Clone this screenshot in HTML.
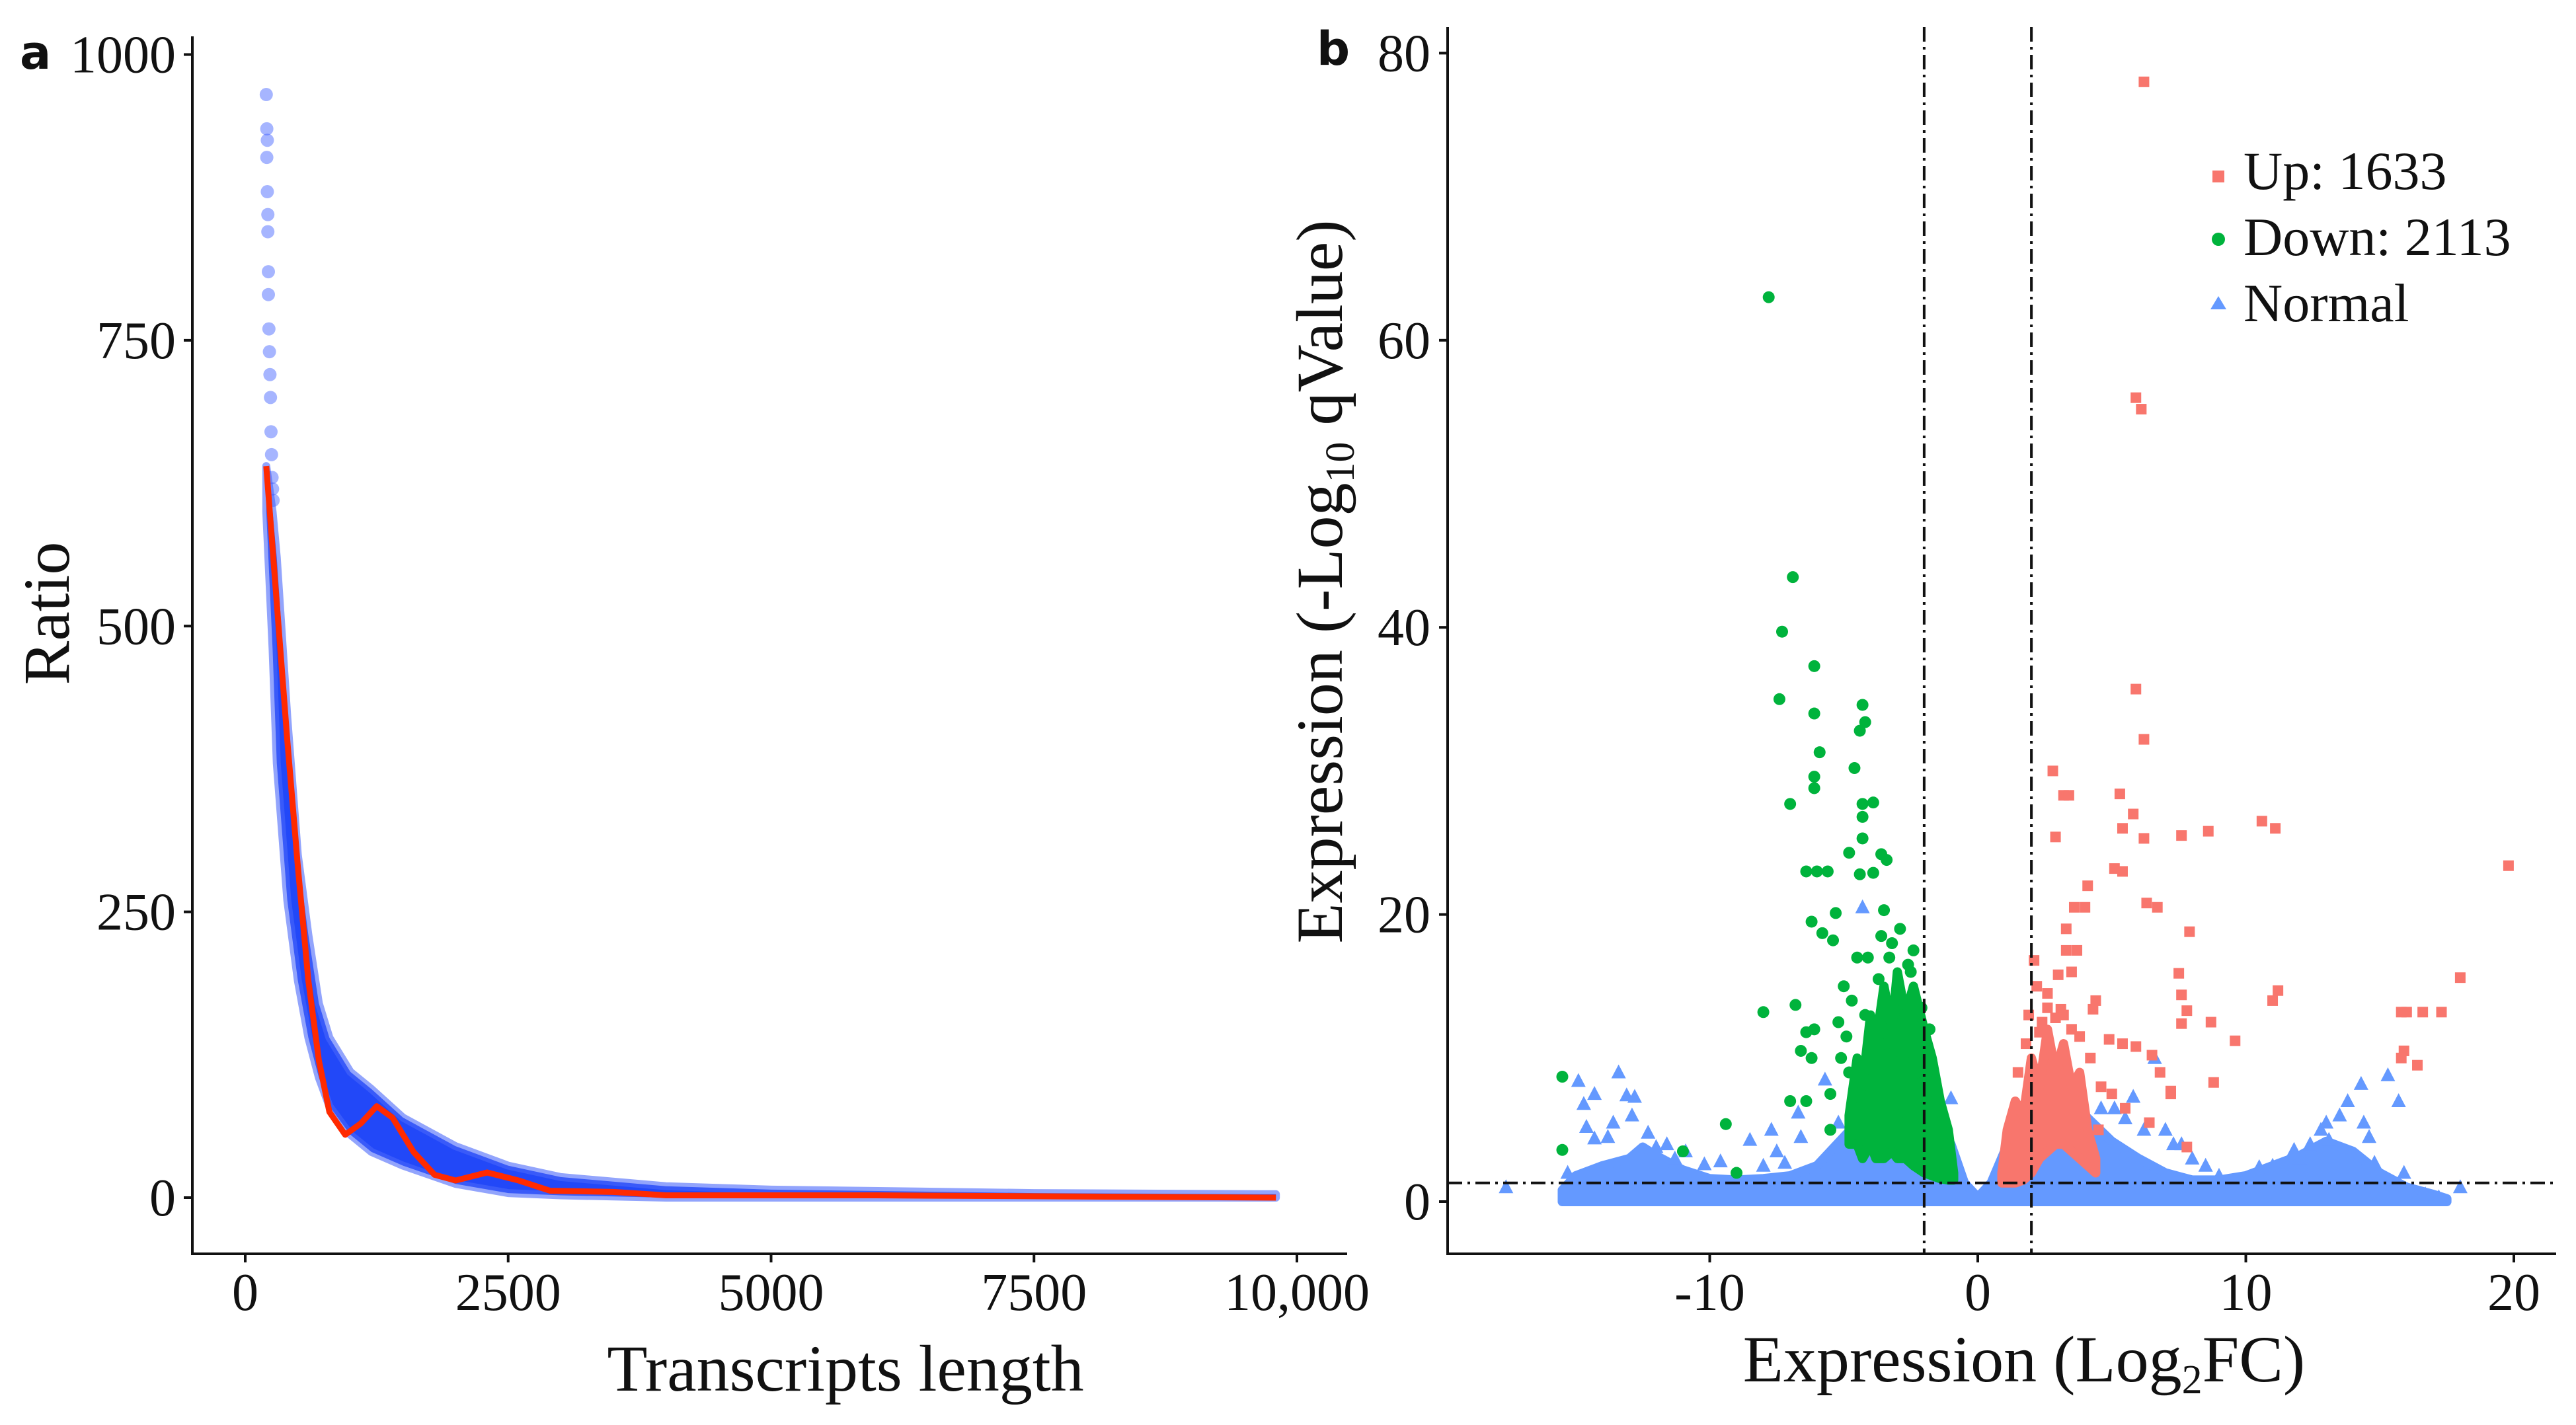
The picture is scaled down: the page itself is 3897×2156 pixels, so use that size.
<!DOCTYPE html>
<html><head><meta charset="utf-8"><style>
html,body{margin:0;padding:0;background:#fff}
svg{display:block}
text{font-family:"Liberation Serif",serif;fill:#111}
</style></head><body>
<svg id="chart" width="3897" height="2156" viewBox="0 0 3897 2156" xmlns="http://www.w3.org/2000/svg">
<g id="pa"></g>
<g id="pb"></g>
</svg>
<script>
// ---------- Panel a data ----------
const aTicksX = [0, 2500, 5000, 7500, 10000];
const aTickLabelsX = ["0", "2500", "5000", "7500", "10,000"];
const aTicksY = [0, 250, 500, 750, 1000];
const aBandX = [200, 260, 300, 400, 500, 600, 700, 800, 1000, 1200, 1500, 2000, 2500, 3000, 4000, 5000, 7500, 9800];
const aBandUpper = [640, 600, 560, 420, 300, 230, 170, 140, 110, 95, 70, 45, 28, 18, 10, 7, 4, 3];
const aBandLower = [600, 480, 380, 260, 190, 140, 105, 80, 55, 40, 28, 12, 4, 2, 0, 0, 0, 0];
const aTailX = [200, 205, 210, 205, 210, 215, 215, 220, 220, 225, 230, 235, 240, 245, 250, 255, 260, 265];
const aTailY = [965, 935, 925, 910, 880, 860, 845, 810, 790, 760, 740, 720, 700, 670, 650, 630, 620, 610];
const aFitX = [200, 300, 400, 500, 600, 700, 800, 950, 1100, 1250, 1400, 1600, 1800, 2000, 2300, 2600, 2900, 3500, 4000, 6000, 9800];
const aFitY = [640, 520, 400, 290, 190, 120, 75, 55, 65, 80, 70, 40, 20, 15, 22, 15, 6, 5, 2, 2, 0];

// ---------- Panel b data ----------
const bTicksX = [-10, 0, 10, 20];
const bTicksY = [0, 20, 40, 60, 80];
const bFoldCut = [-2, 2];
const bQCut = 1.3;
const normalEnvX = [-15.5, -15, -14, -13, -12.5, -12, -11, -10, -9, -8, -7, -6, -5, -4.5, -4, -3, -2, -1, -0.5, 0, 0.5, 1, 2, 3, 4, 5, 6, 7, 8, 9, 10, 11, 12, 13, 14, 15, 16, 17, 17.5];
const normalEnvTop = [0.8, 1.8, 2.5, 3, 3.8, 3.2, 2.2, 1.6, 1.5, 1.6, 1.8, 2.5, 4.5, 5.5, 6.5, 7, 6, 4, 1.3, 0.3, 1.3, 3.5, 5.5, 6.5, 6, 4.2, 3, 2, 1.5, 1.5, 1.8, 2.5, 3.2, 4.2, 3.5, 2, 1, 0.5, 0.2];
const downEnvX = [-4.8, -4.5, -4.3, -4, -3.8, -3.5, -3.2, -3, -2.7, -2.4, -2, -1.7, -1.4, -1.1, -0.9];
const downEnvTop = [6, 10, 8, 13, 11, 15, 12, 16, 13, 15, 12, 10, 7, 5, 2];
const downEnvBottom = [4, 4, 3, 4, 3, 3, 3.5, 3, 3, 2.5, 2, 1.8, 1.6, 1.5, 1.5];
const upEnvX = [0.9, 1.1, 1.4, 1.7, 2, 2.3, 2.6, 2.9, 3.2, 3.5, 3.8, 4.1, 4.4];
const upEnvTop = [2, 5, 7, 6, 10, 8, 12, 9, 11, 8, 9, 5, 3];
const upEnvBottom = [1.3, 1.3, 1.3, 1.5, 2, 3, 3.5, 4, 4, 3.5, 3, 2.5, 2];
const downX = [-7.8,-6.9,-7.3,-6.1,-7.4,-6.1,-4.3,-4.2,-4.4,-5.9,-6.1,-6.1,-4.6,-7,-4.3,-3.9,-4.3,-4.3,-4.8,-3.6,-3.4,-6.4,-6,-5.6,-4.4,-3.9,-6.2,-5.3,-3.5,-5.8,-5.4,-8,-6.8,-6.1,-6.4,-6.6,-6.2,-7,-6.4,-9.4,-15.5,-15.5,-9,-11,-5.5,-5.5,-4.8,-4.9,-5,-4.5,-4.2,-3.7,-3.3,-2.9,-2.7,-2.5,-2.2,-1.9,-1.6,-1.4,-1.2,-1.1,-2,-3,-3.8,-4.6,-5.2,-3.2,-2.4,-1.8,-4.1,-3.6,-3.1,-2.6,-2.1,-4.7,-5.1,-3.4,-2.8,-2.3];
const downY = [63,43.5,39.7,37.3,35,34,34.6,33.4,32.8,31.3,29.6,28.8,30.2,27.7,27.7,27.8,26.8,25.3,24.3,24.2,23.8,23,23,23,22.8,22.9,19.5,20.1,20.3,18.7,18.2,13.2,13.7,12,11.8,10.5,10,7,7,5.4,8.7,3.6,2,3.5,7.5,5,9,11.5,15,17,13,15.5,17,19,13,16,11,9,7,5.5,4,3,5,6,8,6.5,12.5,18,17.5,12,17,18.5,14,16.5,13.5,14,10,11,10,9];
const upX = [6.2,5.9,6.1,5.9,6.2,2.8,3.2,3.4,5.3,5.8,5.4,6.2,7.6,8.6,10.6,11.1,2.9,19.8,5.1,5.4,4.1,3.6,4,6.3,6.7,3.3,7.9,3.3,3.7,2.1,3,3.5,7.5,4.4,7.6,11.2,11,18,2.6,3.1,4.3,7.8,15.8,16,16.6,17.3,1.9,8.7,7.6,2.3,3.8,4.9,5.4,5.9,6.5,9.6,15.9,15.8,16.4,6.8,7.2,8.8,7.2,5.5,6.4,7.8,4.5,2.2,2.6,3.2,1.8,2.4,3.5,4.2,2.9,1.5,4.6,5];
const upY = [78,56,55.2,35.7,32.2,30,28.3,28.3,28.4,27,26,25.3,25.5,25.8,26.5,26,25.4,23.4,23.2,23,22,20.5,20.5,20.8,20.5,19,18.8,17.5,17.5,16.8,15.8,16,15.9,14,14.4,14.7,14,15.6,13.5,13.4,13.4,13.3,13.2,13.2,13.2,13.2,13,12.5,12.4,11.8,11.5,11.3,11,10.8,10.2,11.2,10.5,10,9.5,9,7.7,8.3,7.5,6.5,5.5,3.8,5,15,14.5,13,11,12.5,12,10,12.8,9,8,7.5];
const normX = [-14.9,-13.4,-14.3,-13.1,-12.8,-14.7,-12.9,-14.6,-13.6,-14.3,-12.3,-11.6,-10.9,-10.2,-15.3,-17.6,-8.5,-7.7,-7.5,-6.7,-6.6,-5.7,-4.3,-3.9,-1,5.1,5.8,6.6,7,7.6,8.5,13.1,13.8,14.3,15.3,15.7,13,14.4,12.4,15.9,16.7,17.2,18,14.8,12,11,9,3,3.5,2.5,4,-13.8,-12,-11.3,-9.6,-8,-7.2,-5.2,4.6,5.5,6.2,7.3,8,10.5,11.8,12.8,13.5,14.6];
const normY = [8.4,9,7.5,7.4,7.3,6.8,6,5.2,5.5,4.4,4.8,4,3.5,2.6,2,1,4.3,5,3.5,6.2,4.5,8.5,20.5,10,7.2,6.5,7.3,10,5,4,2.5,4.3,7,8.2,8.8,7,5.5,5.5,4,2,0.5,0.3,1,2.7,3,2.5,1.8,6,7,4.5,3.5,4.5,3.8,3,2.8,2.5,2.7,5.5,6.5,5.8,5,4,3,2.4,3.6,5,6,4.5];

const NS = "http://www.w3.org/2000/svg";
function mk(parent, tag, attrs, txt){ const e=document.createElementNS(NS,tag); for(const k in attrs) e.setAttribute(k,attrs[k]); if(txt!==undefined) e.textContent=txt; parent.appendChild(e); return e; }

// ---------- Panel a ----------
const pa = document.getElementById('pa');
const ax = v => 371 + v*0.1591;
const ay = v => 1812 - v*1.7295;
let e;
e = mk(pa,'line',{x1:291,y1:55,x2:291,y2:1897,stroke:'#111','stroke-width':4});
 
e = mk(pa,'line',{x1:289,y1:1897,x2:2038,y2:1897,stroke:'#111','stroke-width':4});
 
aTicksY.forEach(v=>{
  mk(pa,'line',{x1:278,y1:ay(v),x2:291,y2:ay(v),stroke:'#111','stroke-width':4});
  e = mk(pa,'text',{x:266,y:ay(v)+27,'text-anchor':'end','font-size':80},String(v));
   
});
aTicksX.forEach((v,i)=>{
  mk(pa,'line',{x1:ax(v),y1:1897,x2:ax(v),y2:1910,stroke:'#111','stroke-width':4});
  e = mk(pa,'text',{x:ax(v),y:1982,'text-anchor':'middle','font-size':80},aTickLabelsX[i]);
   
});
e = mk(pa,'text',{x:1279,y:2104,'text-anchor':'middle','font-size':100},'Transcripts length');
 
e = mk(pa,'text',{x:0,y:0,'text-anchor':'middle','font-size':100,transform:'translate(104,928) rotate(-90)'},'Ratio');
 
e = mk(pa,'text',{x:30,y:104,'font-size':70,'font-weight':'bold',style:'font-family:"DejaVu Sans",sans-serif'},'a');
 
let pts = aBandX.map((x,i)=>ax(x)+','+ay(aBandUpper[i]));
for(let i=aBandX.length-1;i>=0;i--) pts.push(ax(aBandX[i])+','+ay(aBandLower[i]));
e = mk(pa,'polygon',{points:pts.join(' '),fill:'#2248f8',stroke:'#4a68fa','stroke-width':12,'stroke-linejoin':'round','stroke-opacity':0.6});
 
aTailX.forEach((x,i)=>{
  e = mk(pa,'circle',{cx:ax(x),cy:ay(aTailY[i]),r:10,fill:'#3a5cff','fill-opacity':0.45});
   
});
e = mk(pa,'polyline',{points:aFitX.map((x,i)=>ax(x)+','+ay(aFitY[i])).join(' '),fill:'none',stroke:'#ff2a00','stroke-width':9,'stroke-linejoin':'round'});
 

// ---------- Panel b ----------
const pb = document.getElementById('pb');
const bx = v => 2992 + v*40.55;
const by = v => 1818 - v*21.72;
const BLUE='#6499ff', GREEN='#00b33c', RED='#f8766d';
function env(xs, tops, bots, fill, name){
  let p = xs.map((x,i)=>bx(x)+','+by(tops[i]));
  for(let i=xs.length-1;i>=0;i--) p.push(bx(xs[i])+','+by(bots?bots[i]:0));
  const el = mk(pb,'polygon',{points:p.join(' '),fill:fill,stroke:fill,'stroke-width':14,'stroke-linejoin':'round'});
   
}
env(normalEnvX, normalEnvTop, null, BLUE, 'normal-density');
normX.forEach((x,i)=>{
  const cx=bx(x), cy=by(normY[i]);
  e = mk(pb,'polygon',{points:`${cx},${cy-12} ${cx-11},${cy+9} ${cx+11},${cy+9}`,fill:BLUE});
   
});
env(downEnvX, downEnvTop, downEnvBottom, GREEN, 'down-density');
env(upEnvX, upEnvTop, upEnvBottom, RED, 'up-density');
downX.forEach((x,i)=>{
  e = mk(pb,'circle',{cx:bx(x),cy:by(downY[i]),r:9,fill:GREEN});
   
});
upX.forEach((x,i)=>{
  e = mk(pb,'rect',{x:bx(x)-8,y:by(upY[i])-8,width:16,height:16,fill:RED});
   
});
bFoldCut.forEach(v=>{
  e = mk(pb,'line',{x1:bx(v),y1:41,x2:bx(v),y2:1897,stroke:'#111','stroke-width':4,'stroke-dasharray':'22 8 4 8'});
   
});
e = mk(pb,'line',{x1:2190,y1:by(bQCut),x2:3867,y2:by(bQCut),stroke:'#111','stroke-width':4,'stroke-dasharray':'22 8 4 8'});
 
e = mk(pb,'line',{x1:2190,y1:41,x2:2190,y2:1897,stroke:'#111','stroke-width':4});
 
e = mk(pb,'line',{x1:2188,y1:1897,x2:3867,y2:1897,stroke:'#111','stroke-width':4});
 
bTicksY.forEach(v=>{
  mk(pb,'line',{x1:2177,y1:by(v),x2:2190,y2:by(v),stroke:'#111','stroke-width':4});
  e = mk(pb,'text',{x:2164,y:by(v)+27,'text-anchor':'end','font-size':80},String(v));
   
});
bTicksX.forEach(v=>{
  mk(pb,'line',{x1:bx(v),y1:1897,x2:bx(v),y2:1910,stroke:'#111','stroke-width':4});
  e = mk(pb,'text',{x:bx(v),y:1982,'text-anchor':'middle','font-size':80},String(v));
   
});
e = mk(pb,'text',{x:3062,y:2090,'text-anchor':'middle','font-size':100});
e.innerHTML='Expression (Log<tspan font-size="62" dy="18">2</tspan><tspan dy="-18">FC)</tspan>';
 
e = mk(pb,'text',{x:0,y:0,'text-anchor':'middle','font-size':100,transform:'translate(2030,880) rotate(-90)'});
e.innerHTML='Expression (-Log<tspan font-size="62" dy="18">10</tspan><tspan dy="-18"> qValue)</tspan>';
 
e = mk(pb,'text',{x:1992,y:98,'font-size':70,'font-weight':'bold',style:'font-family:"DejaVu Sans",sans-serif'},'b');
 
const lg = mk(pb,'g',{});
 
e = mk(lg,'rect',{x:3347,y:258,width:18,height:18,fill:RED});  
e = mk(lg,'text',{x:3394,y:286,'font-size':82},'Up: 1633');  
e = mk(lg,'circle',{cx:3356,cy:362,r:10,fill:GREEN});  
e = mk(lg,'text',{x:3394,y:386,'font-size':82},'Down: 2113');  
e = mk(lg,'polygon',{points:'3356,448 3344,468 3368,468',fill:BLUE});  
e = mk(lg,'text',{x:3394,y:486,'font-size':82},'Normal');  
</script>
</body></html>
